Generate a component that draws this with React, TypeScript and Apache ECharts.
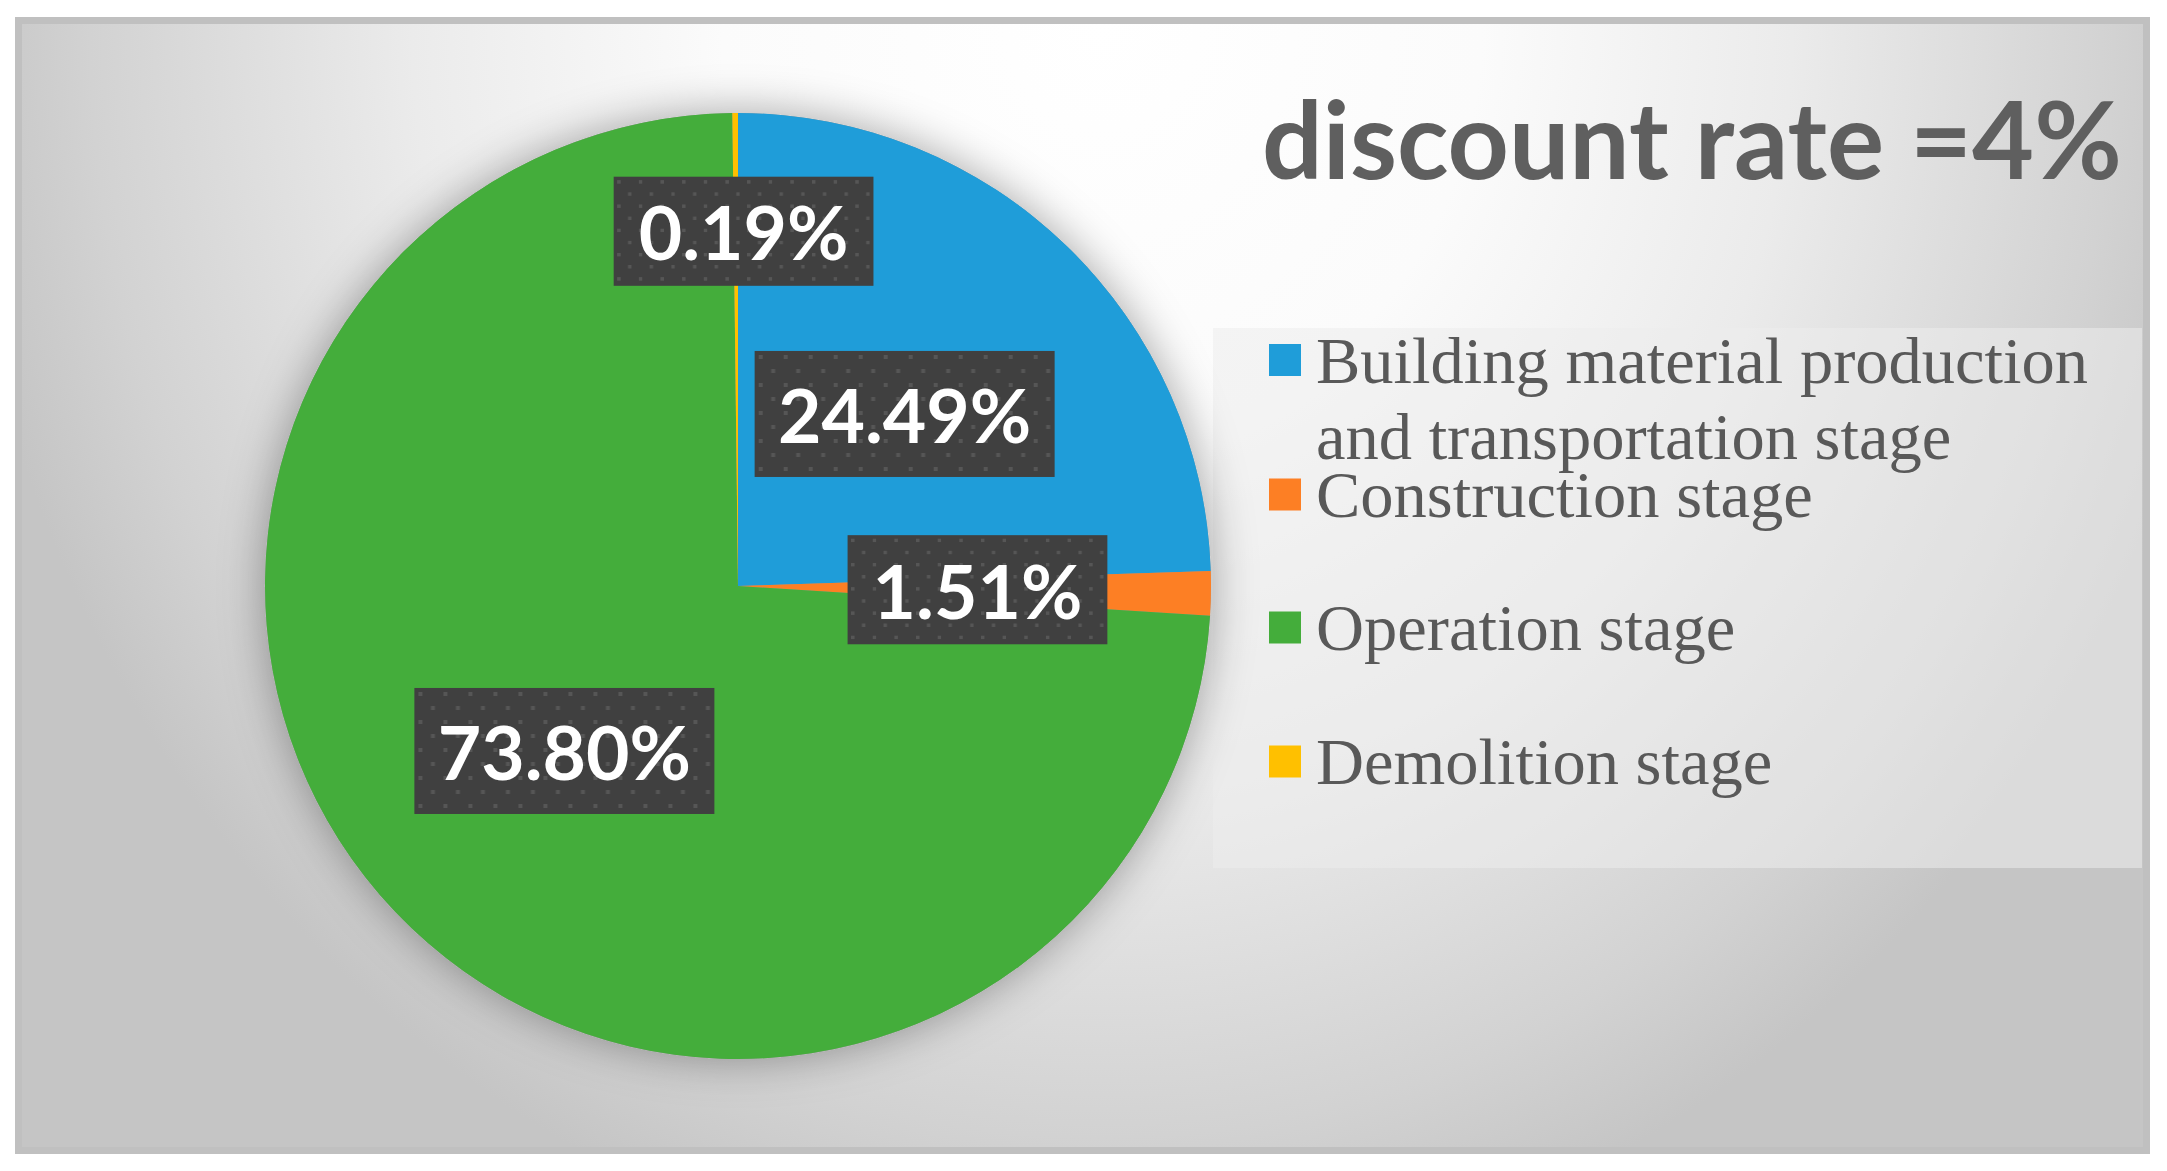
import React, { useEffect, useRef } from "react";
import * as echarts from "echarts";

// ---- data ----
const categories = [
  "Building material production and transportation stage",
  "Construction stage",
  "Operation stage",
  "Demolition stage",
];
const legendLabels = [
  "Building material production\nand transportation stage",
  "Construction stage",
  "Operation stage",
  "Demolition stage",
];
const values = [24.49, 1.51, 73.8, 0.19];
const colors = ["#1F9DD9", "#FD7F24", "#44AD3B", "#FFC000"];
const titleText = "discount rate =4%";

// ---- layout ----
const W = 2167;
const H = 1171;
const PIE_CENTER = [738, 586];
const PIE_R = 473;
const legendLineCenters = [360, 494, 627, 761];
const LEGEND_LEFT = 1269;
const LEGEND_FONT = 66.5;
const LEGEND_LH = 76;
const SINGLE_LH = 46;
const SINGLE_SHIFT = -10;
const MARK = 32;
const BG_SCALE_Y = 1.1;

function makeLabelBg(): string {
  const c = document.createElement("canvas");
  c.width = 300;
  c.height = 126;
  const g = c.getContext("2d");
  if (!g) return "";
  g.fillStyle = "#404040";
  g.fillRect(0, 0, 300, 126);
  g.fillStyle = "#565656";
  for (let k = 0; k * 14 + 4 < 126; k++) {
    const off = (k % 2) * 12.5;
    for (let j = -1; j * 25 < 300; j++) {
      g.fillRect(4 + off + j * 25, 4 + k * 14, 4, 4);
    }
  }
  return c.toDataURL();
}

export default function App() {
  const ref = useRef<HTMLDivElement>(null);
  useEffect(() => {
    document.body.style.margin = "0";
    if (!ref.current) return;
    const chart = echarts.init(ref.current, null, { renderer: "svg" });
    const bg = makeLabelBg();

    const legends = categories.map((name, i) => {
      const nLines = legendLabels[i].split("\n").length;
      const twoLines = nLines > 1;
      const lh = twoLines ? LEGEND_LH : SINGLE_LH;
      const textH = nLines * lh;
      // icon: square on top, invisible extension below so that icon center == text center
      const iconH = twoLines ? MARK + (nLines - 1) * LEGEND_LH : MARK;
      const icon = twoLines
        ? `path://M0,0L${MARK},0L${MARK},${MARK}L0,${MARK}Z M0,${iconH}L0.01,${iconH}L0,${iconH}Z`
        : "rect";
      const iconTop = legendLineCenters[i] - MARK / 2;
      const boxH = Math.max(iconH, textH);
      const top = iconTop + iconH / 2 - boxH / 2 + (twoLines ? 0 : SINGLE_SHIFT);
      return {
        show: true,
        data: [name],
        left: LEGEND_LEFT,
        top,
        padding: 0,
        orient: "vertical",
        icon,
        itemWidth: MARK,
        itemHeight: iconH,
        itemGap: 0,
        selectedMode: false,
        formatter: () => legendLabels[i],
        textStyle: {
          fontFamily: "Liberation Serif",
          fontSize: LEGEND_FONT,
          lineHeight: lh,
          color: "#595959",
          padding: [0, 0, 0, 10],
        },
      };
    });

    const bgH = 1130 / BG_SCALE_Y;
    const option: any = {
      animation: false,
      backgroundColor: "#ffffff",
      title: {
        text: titleText,
        left: 1262,
        top: 84,
        padding: 0,
        textStyle: {
          fontFamily: "Lato",
          fontWeight: "bold",
          fontSize: 107,
          color: "#5f5f5f",
        },
      },
      legend: legends,
      graphic: [
        {
          type: "rect",
          z: -10,
          x: 22,
          y: 24,
          scaleY: BG_SCALE_Y,
          shape: { x: 0, y: 0, width: 2121, height: bgH },
          style: {
            fill: {
              type: "radial",
              global: true,
              x: 1080,
              y: 0,
              r: 1150,
              colorStops: [
                { offset: 0, color: "#ffffff" },
                { offset: 0.33, color: "#fbfbfb" },
                { offset: 0.6, color: "#ebebeb" },
                { offset: 0.88, color: "#d2d2d2" },
                { offset: 1, color: "#c5c5c5" },
              ],
            },
          },
        },
        {
          type: "rect",
          z: -9,
          shape: { x: 18.5, y: 20.5, width: 2128, height: 1130 },
          style: { fill: "none", stroke: "#c0c0c0", lineWidth: 7 },
        },
        {
          type: "rect",
          z: -5,
          shape: { x: 1213, y: 328, width: 929, height: 540 },
          style: { fill: "rgba(236,236,236,0.55)" },
        },
      ],
      series: [
        {
          type: "pie",
          name: "shadow",
          silent: true,
          center: PIE_CENTER,
          radius: PIE_R,
          z: 1,
          label: { show: false },
          labelLine: { show: false },
          itemStyle: {
            color: "#9a9a9a",
            shadowBlur: 45,
            shadowColor: "rgba(0,0,0,0.35)",
          },
          data: [{ value: 1, name: "" }],
        },
        {
          type: "pie",
          name: "Stages",
          center: PIE_CENTER,
          radius: PIE_R,
          startAngle: 90,
          clockwise: true,
          z: 2,
          avoidLabelOverlap: false,
          itemStyle: { borderWidth: 0 },
          label: {
            show: true,
            position: "inside",
            rotate: 0,
            formatter: (p: any) => p.value.toFixed(2) + "%",
            fontFamily: "Lato",
            fontWeight: "bold",
            fontSize: 75,
            lineHeight: 76,
            color: "#ffffff",
            backgroundColor: bg ? { image: bg } : "#404040",
            padding: [25, 25, 25, 25],
            shadowBlur: 14,
            shadowColor: "rgba(0,0,0,0.45)",
            shadowOffsetX: 6,
            shadowOffsetY: 10,
          },
          labelLayout: (params: any) => {
            // Excel best-fit pushes the tiny demolition label outward
            if (params.dataIndex === 3) {
              return { dy: -0.25 * PIE_R + 3, dx: 7 };
            }
            return {};
          },
          labelLine: { show: false },
          data: categories.map((name, i) => ({
            name,
            value: values[i],
            itemStyle: { color: colors[i] },
          })),
        },
      ],
    };
    chart.setOption(option);
    return () => chart.dispose();
  }, []);
  return <div ref={ref} style={{ width: W, height: H }} />;
}
